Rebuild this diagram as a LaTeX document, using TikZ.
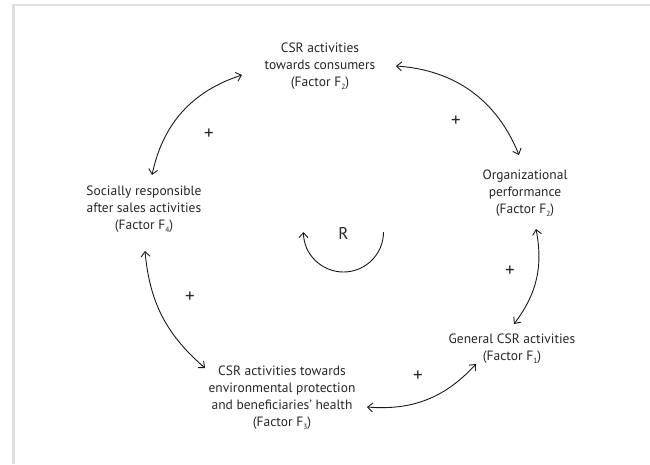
\documentclass[tikz,border=0pt]{standalone}
\usepackage{fontspec}
\setmainfont{PT Sans}
\usetikzlibrary{arrows.meta,calc}
\newcommand{\fsub}[1]{\raisebox{-0.45ex}{\fontsize{7.5}{7.5}\selectfont #1}}
\begin{document}
\begin{tikzpicture}[x=1pt,y=-1pt,
  lbl/.style={align=center,font=\fontsize{13.5}{17}\selectfont,inner sep=0pt,text=black!85},
  plus/.style={font=\fontsize{19}{19}\selectfont,inner sep=0pt,text=black!85},
  tip/.tip={Straight Barb[length=5pt,width=9pt]},
  arr/.style={{tip}-{tip},line width=0.9pt,black!90},
  arr1/.style={-{tip},line width=0.9pt,black!90},
  frame/.style={line width=2.6pt,black!12}]
\useasboundingbox (0,0) rectangle (650,464);
\draw[frame] (13.6,464) -- (13.6,5) -- (650,5);

\node[lbl] (top) at (320,66) {CSR activities\\towards consumers\\(Factor F\fsub{2})};
\node[lbl] (org) at (525,193) {Organizational\\performance\\(Factor F\fsub{2})};
\node[lbl] (soc) at (144,209) {Socially responsible\\after sales activities\\(Factor F\fsub{4})};
\node[lbl] (gen) at (512,349) {General CSR activities\\(Factor F\fsub{1})};
\node[lbl] (env) at (282,397.5) {CSR activities towards\\environmental protection\\and beneficiaries' health\\(Factor F\fsub{3})};
\node[lbl,font=\fontsize{17}{17}\selectfont] (R) at (343.5,233) {R};

\coordinate (a1) at (152,175); \coordinate (a2) at (242,75);
\coordinate (b1) at (396,66);  \coordinate (b2) at (519,155);
\coordinate (c1) at (536,229); \coordinate (c2) at (514,324);
\coordinate (d1) at (476,364); \coordinate (d2) at (367,407);
\coordinate (e1) at (205,368); \coordinate (e2) at (145,251);

\draw[arr] (a1) to[bend left=30] (a2);
\draw[arr] (b1) to[bend left=32] (b2);
\draw[arr] (c1) to[bend left=24] (c2);
\draw[arr] (d1) to[bend left=26] (d2);
\draw[arr] (e1) to[bend left=22] (e2);

\node[plus] (p1) at (209,134) {+};
\node[plus] (p2) at (456,121) {+};
\node[plus] (p3) at (510,271) {+};
\node[plus] (p4) at (418,376) {+};
\node[plus] (p5) at (190,297) {+};

\coordinate (r0) at ($(R)+(40,-1)$);
\draw[arr1] (r0) arc[start angle=0,end angle=-180,radius=40pt];
\end{tikzpicture}
\end{document}
